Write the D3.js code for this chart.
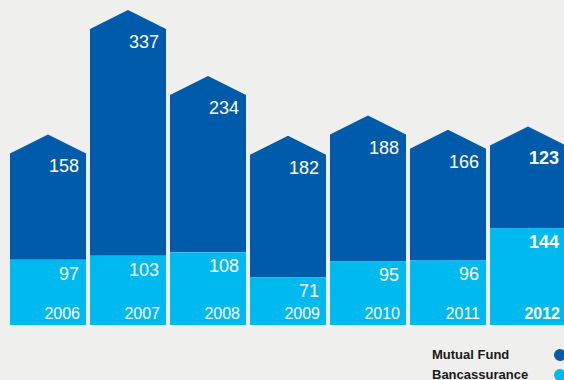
<!DOCTYPE html>
<html>
<head>
<meta charset="utf-8">
<script src="https://cdn.jsdelivr.net/npm/d3@7"></script>
<style>
  html, body { margin: 0; padding: 0; background: #efefed; }
  svg { display: block; }
  text { font-family: "Liberation Sans", Arial, Helvetica, sans-serif; }
</style>
</head>
<body>
<svg id="chart" width="564" height="380"></svg>
<script>
// Sales by channel, per year
const years = ["2006", "2007", "2008", "2009", "2010", "2011", "2012"];
const bancassurance = [97, 103, 108, 71, 95, 96, 144];
const mutualFund = [158, 337, 234, 182, 188, 166, 123];
const seriesNames = ["Mutual Fund", "Bancassurance"];

const colors = { mutual: "#005bab", banca: "#00b9ef", bg: "#efefed" };

const svg = d3.select("#chart");
svg.append("rect").attr("width", 564).attr("height", 380).attr("fill", colors.bg);

const x = d3.scaleBand()
  .domain(years)
  .range([8, 568])
  .paddingInner(0.05)
  .paddingOuter(0.025);

const y = d3.scaleLinear().domain([0, 440]).range([325, 29]);

const roofRise = 19;

const data = years.map((yr, i) => ({
  year: yr,
  banca: bancassurance[i],
  mutual: mutualFund[i],
  bold: yr === "2012"
}));

const bars = svg.append("g").selectAll("g")
  .data(data)
  .join("g");

// Mutual fund segment with a pointed roof
bars.append("path")
  .attr("fill", colors.mutual)
  .attr("d", d => {
    const x0 = x(d.year), x1 = x0 + x.bandwidth(), xm = (x0 + x1) / 2;
    const top = y(d.banca + d.mutual), base = y(d.banca);
    return `M${x0},${base}L${x0},${top}L${xm},${top - roofRise}L${x1},${top}L${x1},${base}Z`;
  });

// Bancassurance segment
bars.append("rect")
  .attr("fill", colors.banca)
  .attr("x", d => x(d.year))
  .attr("width", x.bandwidth())
  .attr("y", d => y(d.banca))
  .attr("height", d => y(0) - y(d.banca));

const pad = 7;

bars.append("text")
  .attr("x", d => x(d.year) + x.bandwidth() - pad)
  .attr("y", d => y(d.banca + d.mutual) + 19)
  .attr("text-anchor", "end")
  .attr("fill", "#fff")
  .attr("font-size", 18)
  .attr("font-weight", d => d.bold ? "bold" : "normal")
  .text(d => d.mutual);

bars.append("text")
  .attr("x", d => x(d.year) + x.bandwidth() - pad)
  .attr("y", d => y(d.banca) + 20)
  .attr("text-anchor", "end")
  .attr("fill", "#fff")
  .attr("font-size", 18)
  .attr("font-weight", d => d.bold ? "bold" : "normal")
  .text(d => d.banca);

bars.append("text")
  .attr("x", d => x(d.year) + x.bandwidth() - pad + 1)
  .attr("y", y(0) - 6.5)
  .attr("text-anchor", "end")
  .attr("fill", "#fff")
  .attr("font-size", 16)
  .attr("font-weight", d => d.bold ? "bold" : "normal")
  .text(d => d.year);

// Legend
const legend = svg.append("g");
const legendColors = [colors.mutual, colors.banca];
seriesNames.forEach((name, i) => {
  const cy = 355 + i * 20;
  legend.append("text")
    .attr("x", 432)
    .attr("y", cy + 3.5)
    .attr("font-size", 13)
    .attr("font-weight", "bold")
    .attr("fill", "#1a1a1a")
    .text(name);
  legend.append("circle")
    .attr("cx", 560)
    .attr("cy", cy)
    .attr("r", 6)
    .attr("fill", legendColors[i]);
});
</script>
</body>
</html>
